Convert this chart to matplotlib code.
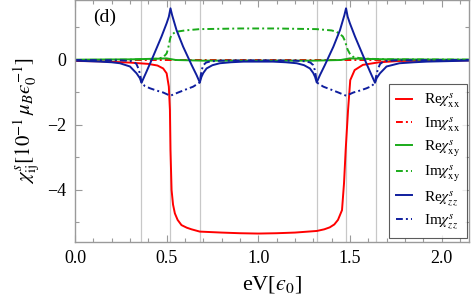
import matplotlib
matplotlib.use("Agg")
import matplotlib.pyplot as plt
from matplotlib.ticker import MultipleLocator

plt.rcParams['font.family'] = ['Liberation Serif', 'DejaVu Serif']
plt.rcParams['mathtext.fontset'] = 'stix'

# ---- data ----
grid_x = [0.36, 0.52, 0.68, 1.32, 1.48, 1.64]

re_xx_x = [0.0, 0.136, 0.3, 0.4, 0.45, 0.481, 0.50, 0.512, 0.518, 0.521, 0.527, 0.535, 0.545, 0.56,
           0.581, 0.61, 0.636, 0.681, 0.8, 0.9, 1.0, 1.1, 1.2, 1.32, 1.36, 1.39, 1.415, 1.435,
           1.457, 1.468, 1.477, 1.49, 1.502, 1.526, 1.571, 1.66, 1.77, 1.95, 2.15]
re_xx_y = [-0.03, -0.04, -0.08, -0.12, -0.17, -0.26, -0.41, -0.82, -1.54, -2.77, -4.0, -4.45, -4.72, -4.92,
           -5.08, -5.16, -5.21, -5.28, -5.31, -5.33, -5.34, -5.33, -5.31, -5.26, -5.21, -5.15, -5.06, -4.92,
           -4.62, -3.79, -2.77, -1.54, -0.62, -0.31, -0.15, -0.07, -0.03, -0.02, -0.01]

im_xx_x = [0.0, 2.15]
im_xx_y = [0.0, 0.0]

re_xy_x = [0.0, 0.3, 0.45, 0.5, 0.55, 0.7, 1.0, 1.3, 1.45, 1.5, 1.55, 1.7, 2.15]
re_xy_y = [0.01, 0.02, 0.04, 0.05, 0.0, -0.02, -0.02, -0.02, 0.0, 0.05, 0.04, 0.02, 0.01]

im_xy_x = [0.0, 0.3, 0.45, 0.481, 0.50, 0.507, 0.514, 0.52, 0.527, 0.54, 0.554, 0.6, 0.681, 0.8, 0.9,
           1.0, 1.1, 1.2, 1.317, 1.4, 1.426, 1.446, 1.462, 1.472, 1.48, 1.487, 1.499, 1.517, 1.55,
           1.59, 1.7, 2.15]
im_xy_y = [0.0, 0.01, 0.04, 0.08, 0.2, 0.33, 0.51, 0.68, 0.77, 0.83, 0.87, 0.91, 0.95, 0.96, 0.97,
           0.97, 0.97, 0.96, 0.95, 0.91, 0.87, 0.8, 0.72, 0.6, 0.46, 0.33, 0.2, 0.1, 0.06,
           0.04, 0.02, 0.01]

re_zz_x = [0.0, 0.136, 0.2, 0.245, 0.30, 0.336, 0.354, 0.363, 0.39, 0.418, 0.445, 0.472, 0.50, 0.512,
           0.521, 0.53, 0.554, 0.59, 0.636, 0.663, 0.681, 0.69, 0.70, 0.718, 0.75, 0.79, 0.85, 0.92,
           1.0, 1.08, 1.15, 1.21, 1.25, 1.282, 1.30, 1.31, 1.319, 1.337, 1.364, 1.41, 1.446,
           1.47, 1.479, 1.488, 1.50, 1.528, 1.555, 1.582, 1.61, 1.637, 1.646, 1.664, 1.70, 1.77,
           1.85, 1.92, 2.15]
re_zz_y = [-0.02, -0.05, -0.07, -0.10, -0.20, -0.41, -0.56, -0.70, -0.36, 0.0, 0.36, 0.72, 1.13, 1.33,
           1.59, 1.38, 0.92, 0.41, -0.15, -0.46, -0.69, -0.52, -0.40, -0.26, -0.16, -0.10, -0.07, -0.05,
           -0.05, -0.05, -0.07, -0.10, -0.16, -0.26, -0.40, -0.52, -0.69, -0.46, -0.15, 0.41, 0.92,
           1.38, 1.59, 1.33, 1.13, 0.72, 0.36, 0.0, -0.36, -0.70, -0.56, -0.41, -0.20, -0.10,
           -0.07, -0.05, -0.02]

im_zz_x = [0.0, 0.25, 0.30, 0.32, 0.335, 0.345, 0.352, 0.358, 0.363, 0.381, 0.409, 0.445, 0.481, 0.52,
           0.563, 0.608, 0.645, 0.681, 0.686, 0.692, 0.70, 0.715, 0.74, 0.8, 1.0,
           1.2, 1.26, 1.285, 1.30, 1.308, 1.314, 1.319, 1.355, 1.392, 1.437, 1.48, 1.519, 1.555,
           1.591, 1.619, 1.637, 1.642, 1.648, 1.655, 1.665, 1.68, 1.70, 1.75, 2.15]
im_zz_y = [0.0, -0.01, -0.03, -0.06, -0.12, -0.25, -0.38, -0.53, -0.70, -0.80, -0.87, -0.94, -1.0, -1.1,
           -1.0, -0.90, -0.82, -0.69, -0.48, -0.30, -0.16, -0.08, -0.04, -0.02, -0.01,
           -0.02, -0.04, -0.08, -0.16, -0.30, -0.48, -0.69, -0.82, -0.90, -1.0, -1.1, -1.0, -0.94,
           -0.87, -0.80, -0.70, -0.53, -0.38, -0.25, -0.12, -0.06, -0.03, -0.01, 0.0]

labels = [r'Re$\chi^{s}_{\mathrm{xx}}$', r'Im$\chi^{s}_{\mathrm{xx}}$',
          r'Re$\chi^{s}_{\mathrm{xy}}$', r'Im$\chi^{s}_{\mathrm{xy}}$',
          r'Re$\chi^{s}_{zz}$', r'Im$\chi^{s}_{zz}$']

red = '#ff0000'
green = '#1aab1a'
blue = '#0f1e9e'
dd = (0, (3.5, 1.6, 1.0, 1.6))

fig = plt.figure(figsize=(4.77, 3.06), dpi=100)
ax = fig.add_axes([75/477, 1-242/306, 394/477, 242/306])

for gx in grid_x:
    ax.axvline(gx, color='#c8c8c8', lw=0.9, zorder=0)

lw = 1.4
ax.plot(re_xx_x, re_xx_y, color=red, lw=lw, label=labels[0])
ax.plot(im_xx_x, im_xx_y, color=red, lw=lw, ls=dd, label=labels[1])
ax.plot(re_xy_x, re_xy_y, color=green, lw=lw, label=labels[2])
ax.plot(im_xy_x, im_xy_y, color=green, lw=lw, ls=dd, label=labels[3])
ax.plot(re_zz_x, re_zz_y, color=blue, lw=lw, label=labels[4])
ax.plot(im_zz_x, im_zz_y, color=blue, lw=lw, ls=dd, label=labels[5])

ax.set_xlim(0, 2.15)
ax.set_ylim(-5.6, 1.846)

ax.xaxis.set_major_locator(MultipleLocator(0.5))
ax.xaxis.set_minor_locator(MultipleLocator(0.1))
ax.yaxis.set_major_locator(MultipleLocator(2))
ax.yaxis.set_minor_locator(MultipleLocator(1))
ax.xaxis.set_major_formatter(matplotlib.ticker.FormatStrFormatter('%.1f'))
ax.yaxis.set_major_formatter(matplotlib.ticker.FuncFormatter(lambda v, p: ('\u2212%d' % abs(v)) if v < 0 else '%d' % v))

framec = '#9a9a9a'
for s in ax.spines.values():
    s.set_color(framec)
    s.set_linewidth(1.0)
ax.tick_params(which='both', direction='in', top=True, right=True, color=framec, labelsize=13, pad=6)
ax.tick_params(which='major', length=5, width=0.8)
ax.tick_params(which='minor', length=3, width=0.8)

ax.set_xlabel('eV[$\u03f5_0$]', fontsize=16, labelpad=5)
ax.set_ylabel('$\\chi^{s}_{\\mathrm{ij}}[10^{-1}\\,\\mu_B\u03f5_0^{-1}]$', fontsize=15, labelpad=5)

ax.text(0.045, 0.93, '(d)', transform=ax.transAxes, fontsize=14, va='center', ha='left')

leg = ax.legend(loc='lower right', bbox_to_anchor=(0.995, 0.017), fontsize=11, frameon=True,
                fancybox=False, edgecolor='#333333', handlelength=1.0, handletextpad=0.8,
                labelspacing=0.3, borderpad=0.45, borderaxespad=0)
leg.get_frame().set_linewidth(0.8)

fig.savefig('out.png', dpi=100)
